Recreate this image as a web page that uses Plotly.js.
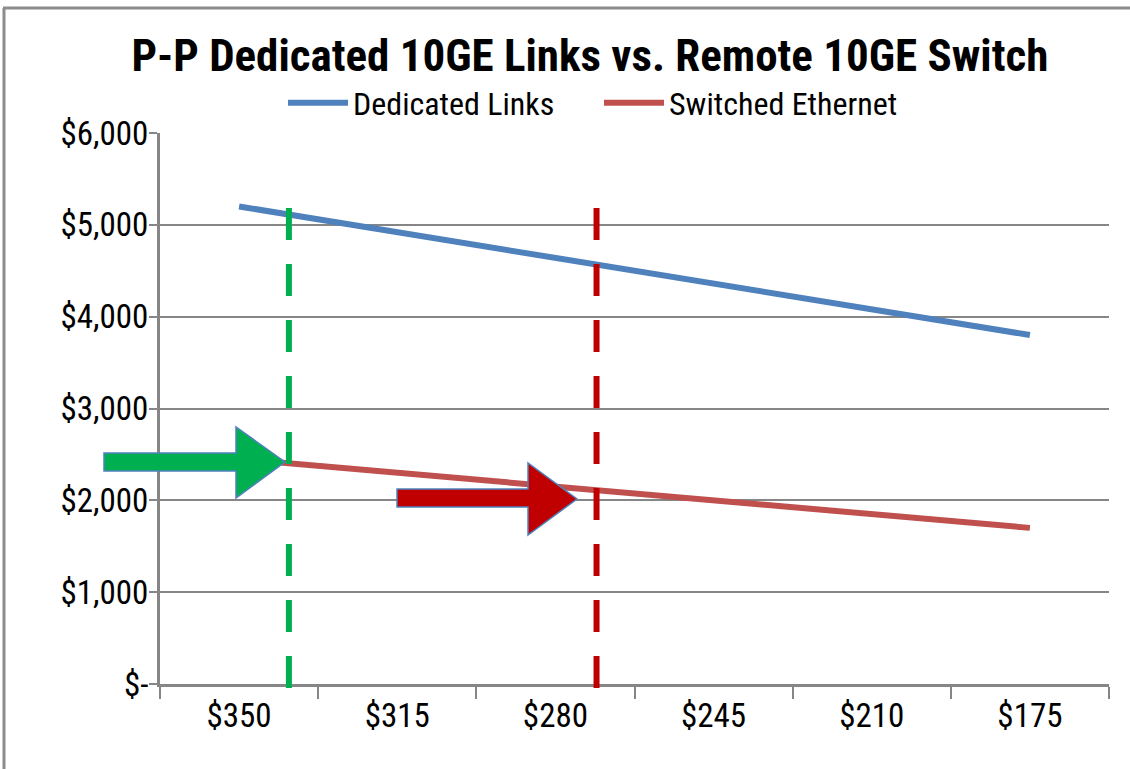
<!DOCTYPE html>
<html>
<head>
<meta charset="utf-8">
<script src="https://cdn.plot.ly/plotly-3.0.1.min.js"></script>
<style>html,body{margin:0;padding:0;background:#fff}#chart{width:1130px;height:769px}</style>
</head>
<body>
<div id="chart"></div>
<script>
const categories = ["$350", "$315", "$280", "$245", "$210", "$175"];
const dedicatedLinks = [5200, 4920, 4640, 4360, 4080, 3800];
const switchedEthernet = [2450, 2300, 2150, 2000, 1850, 1700];
const yTickVals = [0, 1000, 2000, 3000, 4000, 5000, 6000];
const yTickText = ["$-", "$1,000", "$2,000", "$3,000", "$4,000", "$5,000", "$6,000"];
const greenCutoff = 0.315;   // category-index position of green dashed marker
const redCutoff = 2.26;      // category-index position of red dashed marker

const FONT = "'Liberation Sans Narrow', 'Arial Narrow', 'Roboto Condensed', Roboto, sans-serif";
const W = 1130, H = 769, L = 160, R = 21, T = 133, B = 85;
const pw = W - L - R, ph = H - T - B;
const px = v => (v - L) / pw;
const py = v => (H - B - v) / ph;

function arrowPath(x0, sTop, sBot, hx, hTop, hBot, tipX, tipY) {
  const pts = [[x0, sTop], [hx, sTop], [hx, hTop], [tipX, tipY], [hx, hBot], [hx, sBot], [x0, sBot]];
  return "M " + pts.map(p => px(p[0]).toFixed(5) + "," + py(p[1]).toFixed(5)).join(" L ") + " Z";
}

const traces = [
  {x: categories, y: dedicatedLinks, name: "Dedicated Links", type: "scatter", mode: "lines",
   line: {color: "#4F81BD", width: 6}},
  {x: categories, y: switchedEthernet, name: "Switched Ethernet", type: "scatter", mode: "lines",
   line: {color: "#C0504D", width: 6}}
];

const shapes = [
  // outer frame (left and top)
  {type: "line", xref: "paper", yref: "paper", x0: px(4), x1: px(4), y0: py(8), y1: py(769), line: {color: "#8C8C8C", width: 3}},
  {type: "line", xref: "paper", yref: "paper", x0: px(3), x1: px(1130), y0: py(8), y1: py(8), line: {color: "#8C8C8C", width: 3}},
  // dashed markers
  {type: "line", xref: "x", yref: "paper", x0: greenCutoff, x1: greenCutoff, y0: py(688), y1: py(208),
   line: {color: "#00B050", width: 6, dash: "32px,24px"}},
  {type: "line", xref: "x", yref: "paper", x0: redCutoff, x1: redCutoff, y0: py(688), y1: py(208),
   line: {color: "#C00000", width: 6, dash: "32px,24px"}},
  // arrows
  {type: "path", xref: "paper", yref: "paper", path: arrowPath(104, 453, 471, 236, 427, 498, 285, 462),
   fillcolor: "#00B050", line: {color: "#4F81BD", width: 1.5}},
  {type: "path", xref: "paper", yref: "paper", path: arrowPath(397, 489, 507, 528, 463, 535, 577, 499),
   fillcolor: "#C00000", line: {color: "#4F81BD", width: 1.5}}
];

const layout = {
  width: W, height: H,
  margin: {l: L, r: R, t: T, b: B, pad: 0},
  paper_bgcolor: "#ffffff", plot_bgcolor: "#ffffff",
  font: {family: FONT, color: "#000000"},
  title: {text: "<b>P-P Dedicated 10GE Links vs. Remote 10GE Switch</b>", font: {family: FONT, size: 45, color: "#000"},
          xref: "container", yref: "container", x: 0.522, xanchor: "center", y: 1 - 55 / H, yanchor: "middle"},
  showlegend: true,
  legend: {orientation: "h", x: px(283), xanchor: "left", y: py(103), yanchor: "middle",
           font: {family: FONT, size: 32, color: "#000"}, itemwidth: 60, entrywidth: 241, entrywidthmode: "pixels",
           tracegroupgap: 0, bgcolor: "rgba(0,0,0,0)"},
  xaxis: {type: "category", range: [-0.5, 5.5], showgrid: false, showline: true, linecolor: "#868686", linewidth: 3,
          ticks: "outside", tickson: "boundaries", ticklen: 12, tickwidth: 2, tickcolor: "#868686",
          tickfont: {family: FONT, size: 33, color: "#000"}, zeroline: false, fixedrange: true},
  yaxis: {range: [0, 6000], tickvals: yTickVals, ticktext: yTickText, showgrid: true, gridcolor: "#868686", gridwidth: 2,
          showline: true, linecolor: "#868686", linewidth: 3, ticks: "outside", ticklen: 8, tickwidth: 2, tickcolor: "#868686",
          tickfont: {family: FONT, size: 33, color: "#000"}, zeroline: false, fixedrange: true, ticklabelstandoff: -6},
  shapes: shapes
};

Plotly.newPlot("chart", traces, layout, {displayModeBar: false, staticPlot: true});
</script>
</body>
</html>
